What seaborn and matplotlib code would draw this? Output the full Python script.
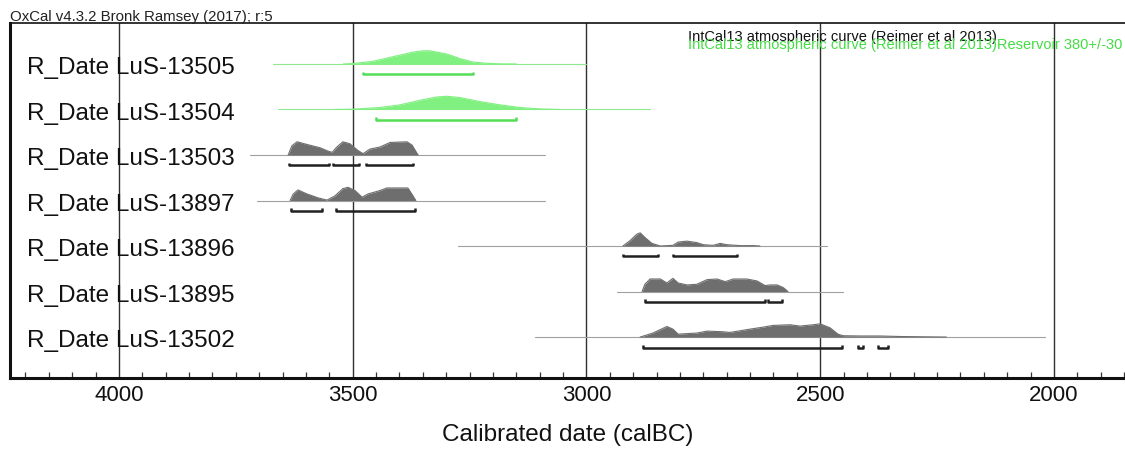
import matplotlib
matplotlib.use("Agg")
import numpy as np
import pandas as pd
import matplotlib.pyplot as plt
import seaborn as sns
from matplotlib.ticker import MultipleLocator

# ------------------------------
# Data
# ------------------------------
labels = ["R_Date LuS-13505", "R_Date LuS-13504", "R_Date LuS-13503",
          "R_Date LuS-13897", "R_Date LuS-13896", "R_Date LuS-13895",
          "R_Date LuS-13502"]
marine = [True, True, False, False, False, False, False]

# full extent of each likelihood (thin line)
range_start = [3670, 3660, 3720, 3705, 3275, 2934, 3110]
range_end = [3000, 2865, 3088, 3088, 2485, 2451, 2019]

years_13505 = [3520, 3500, 3457, 3414, 3371, 3350, 3335, 3298, 3270, 3243, 3213, 3185, 3150]
dens_13505 = [0, 0.03, 0.2, 0.55, 0.9, 1.0, 1.0, 0.75, 0.4, 0.15, 0.05, 0.01, 0]

years_13504 = [3540, 3500, 3442, 3399, 3356, 3320, 3298, 3270, 3228, 3185, 3142, 3100, 3057]
dens_13504 = [0, 0.02, 0.15, 0.35, 0.7, 0.95, 1.0, 0.9, 0.6, 0.35, 0.15, 0.04, 0]

years_13503 = [3638, 3630, 3619, 3598, 3570, 3553, 3544, 3534, 3521, 3506, 3489, 3478,
               3463, 3442, 3420, 3384, 3373, 3362, 3360]
dens_13503 = [0, 0.7, 1.0, 0.8, 0.55, 0.3, 0.2, 0.6, 1.0, 0.85, 0.35, 0.1,
              0.45, 0.6, 0.95, 1.0, 0.75, 0.1, 0]

years_13897 = [3634, 3627, 3617, 3598, 3574, 3555, 3538, 3521, 3510, 3495, 3480, 3467,
               3442, 3427, 3382, 3371, 3365]
dens_13897 = [0, 0.5, 0.8, 0.5, 0.2, 0.03, 0.35, 0.9, 1.0, 0.75, 0.25, 0.5,
              0.75, 0.95, 0.95, 0.35, 0]

years_13896 = [2922, 2907, 2892, 2885, 2875, 2860, 2842, 2815, 2804, 2785, 2764, 2750,
               2729, 2714, 2700, 2671, 2643, 2629]
dens_13896 = [0, 0.4, 0.9, 1.0, 0.65, 0.2, 0, 0.05, 0.3, 0.37, 0.26, 0.1,
              0.05, 0.2, 0.1, 0.03, 0.03, 0]

years_13895 = [2881, 2875, 2864, 2842, 2828, 2815, 2804, 2785, 2764, 2742, 2721, 2703,
               2686, 2657, 2635, 2618, 2607, 2592, 2579, 2569]
dens_13895 = [0, 0.55, 0.95, 0.95, 0.65, 1.0, 0.65, 0.5, 0.55, 0.9, 0.95, 0.75,
              0.95, 0.95, 0.8, 0.45, 0.5, 0.5, 0.3, 0]

years_13502 = [2885, 2858, 2828, 2815, 2804, 2764, 2742, 2708, 2693, 2650, 2622, 2601,
               2564, 2543, 2515, 2500, 2479, 2462, 2451, 2415, 2372, 2329, 2230]
dens_13502 = [0, 0.3, 0.8, 0.6, 0.22, 0.3, 0.45, 0.4, 0.35, 0.6, 0.75, 0.88,
              0.93, 0.83, 0.93, 1.0, 0.7, 0.22, 0.1, 0.08, 0.08, 0.04, 0]

all_years = [years_13505, years_13504, years_13503, years_13897,
             years_13896, years_13895, years_13502]
all_dens = [dens_13505, dens_13504, dens_13503, dens_13897,
            dens_13896, dens_13895, dens_13502]

# 95.4% ranges (brackets)
ranges_954 = [
    [(3478, 3243)],
    [(3450, 3150)],
    [(3636, 3551), (3542, 3487), (3472, 3371)],
    [(3632, 3566), (3536, 3367)],
    [(2922, 2847), (2815, 2678)],
    [(2875, 2618), (2611, 2581)],
    [(2879, 2453), (2419, 2408), (2376, 2355)],
]

# ------------------------------
# Plot
# ------------------------------
sns.set_theme(style="white")
plt.rcParams['font.family'] = ['Liberation Sans', 'DejaVu Sans']

fig = plt.figure(figsize=(11.25, 4.56), dpi=100)
ax = fig.add_axes([10 / 1125, 1 - 379 / 456, 1 - 10 / 1125, 355 / 456])

green_fill = "#80f080"
green_line = "#90e890"
green_bracket = "#55dd55"
grey_fill = "#6e6e6e"
grey_line = "#a0a0a0"
dark_bracket = "#202020"

# calendar gridlines
for yr in [4000, 3500, 3000, 2500, 2000]:
    ax.axvline(yr, color="#303030", lw=1.0, zorder=1)

scale = 0.29
for i, lab in enumerate(labels):
    fill_c = green_fill if marine[i] else grey_fill
    line_c = green_line if marine[i] else grey_line
    br_c = green_bracket if marine[i] else dark_bracket

    # thin range line
    sns.lineplot(x=[range_start[i], range_end[i]], y=[i, i], color=line_c,
                 lw=0.8, ax=ax, zorder=2)

    yrs = np.array(all_years[i])
    top = i - np.array(all_dens[i]) * scale
    ax.fill_between(yrs, i, top, color=fill_c, lw=0, zorder=3)
    sns.lineplot(x=yrs, y=top, color=fill_c, lw=0.8, ax=ax, zorder=3,
                 estimator=None, sort=True)

    # bracket ranges
    yb = i + 0.23
    for a, b in ranges_954[i]:
        ax.plot([a, a, b, b], [yb - 0.06, yb, yb, yb - 0.06], color=br_c,
                lw=1.8, solid_capstyle="butt", zorder=4)

    ax.text(4197, i + 0.2, lab, fontsize=17.5, ha="left", va="baseline",
            color="#111111", zorder=5)

ax.set_xlim(4233, 1848)
ax.set_ylim(6.9, -0.9)
ax.set_yticks([])
ax.xaxis.set_major_locator(MultipleLocator(500))
ax.xaxis.set_minor_locator(MultipleLocator(50))
ax.tick_params(axis="x", which="major", direction="in", length=0, pad=4,
               labelsize=16, labelcolor="#111111", bottom=True)
ax.tick_params(axis="x", which="minor", direction="in", length=4.5, width=0.9,
               color="#333333", bottom=True)
ax.set_xlabel("Calibrated date (calBC)", fontsize=17.5, labelpad=13, color="#111111")

for side in ["left", "bottom"]:
    ax.spines[side].set_linewidth(2.2)
    ax.spines[side].set_color("#111111")
ax.spines["top"].set_linewidth(1.2)
ax.spines["top"].set_color("#111111")
ax.spines["right"].set_visible(False)

fig.text(10 / 1125, 1 - 21 / 456, "OxCal v4.3.2 Bronk Ramsey (2017); r:5",
         fontsize=10.8, ha="left", va="baseline", color="#222222")
ax.text(688 / 1125, 1 - 41 / 456, "IntCal13 atmospheric curve (Reimer et al 2013)",
        transform=fig.transFigure, fontsize=10.5, ha="left", va="baseline",
        color="#111111", zorder=6)
ax.text(688 / 1125, 1 - 49 / 456,
        "IntCal13 atmospheric curve (Reimer et al 2013)Reservoir 380+/-30",
        transform=fig.transFigure, fontsize=10.5, ha="left", va="baseline",
        color="#44dd44", zorder=6, clip_on=False)

fig.savefig("out.png", dpi=100)
